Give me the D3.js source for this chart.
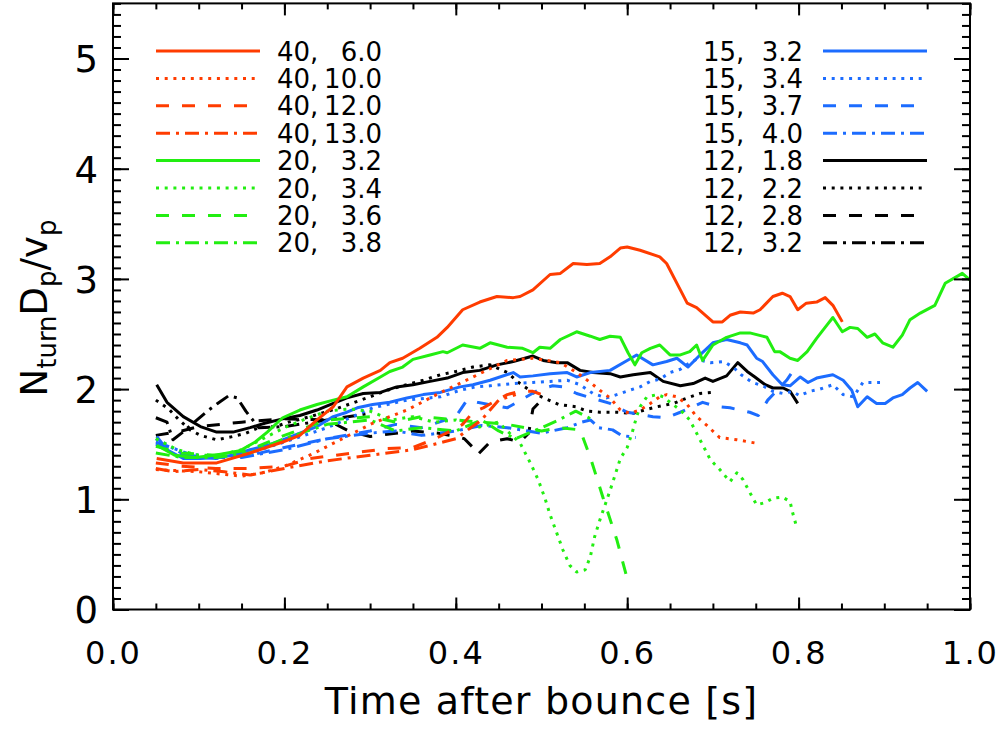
<!DOCTYPE html>
<html><head><meta charset="utf-8">
<script src="https://cdn.jsdelivr.net/npm/d3@7"></script>
<style>
body{margin:0;background:#fff}
svg{display:block}
text{font-family:"DejaVu Sans",sans-serif;fill:#000}
</style>
</head><body>
<svg id="c" width="1008" height="731"></svg>
<script>
// ---------- data ----------
const xTicks = [0, 0.2, 0.4, 0.6, 0.8, 1.0];
const xTickLabels = ["0.0", "0.2", "0.4", "0.6", "0.8", "1.0"];
const yTicks = [0, 1, 2, 3, 4, 5];
const yTickLabels = ["0", "1", "2", "3", "4", "5"];
const xTitle = "Time after bounce [s]";

const leftLegendMass = ["40", "40", "40", "40", "20", "20", "20", "20"];
const leftLegendVal = ["6.0", "10.0", "12.0", "13.0", "3.2", "3.4", "3.6", "3.8"];
const rightLegendMass = ["15", "15", "15", "15", "12", "12", "12", "12"];
const rightLegendVal = ["3.2", "3.4", "3.7", "4.0", "1.8", "2.2", "2.8", "3.2"];

// [time (s), N_turn D_p / v_p]
const s40_60 = [[0.051,1.37],[0.082,1.33],[0.121,1.33],[0.160,1.42],[0.198,1.52],[0.218,1.58],[0.238,1.72],[0.257,1.84],[0.273,2.02],[0.292,2.10],[0.312,2.17],[0.323,2.24],[0.338,2.28],[0.358,2.37],[0.378,2.47],[0.390,2.56],[0.408,2.72],[0.428,2.79],[0.448,2.84],[0.467,2.83],[0.475,2.84],[0.490,2.90],[0.510,3.04],[0.522,3.05],[0.537,3.14],[0.553,3.13],[0.568,3.14],[0.580,3.20],[0.592,3.28],[0.600,3.29],[0.615,3.26],[0.638,3.20],[0.646,3.14],[0.662,2.90],[0.670,2.78],[0.681,2.74],[0.700,2.61],[0.711,2.61],[0.720,2.67],[0.732,2.70],[0.747,2.69],[0.755,2.72],[0.770,2.84],[0.781,2.87],[0.790,2.84],[0.799,2.72],[0.809,2.78],[0.821,2.79],[0.831,2.83],[0.840,2.76],[0.851,2.61]];
const s40_100 = [[0.05,1.27],[0.075,1.26],[0.1,1.25],[0.125,1.23],[0.15,1.21],[0.175,1.24],[0.2,1.30],[0.235,1.42],[0.265,1.54],[0.303,1.69],[0.343,1.81],[0.38,1.96],[0.42,2.11],[0.46,2.26],[0.49,2.28],[0.522,2.24],[0.541,2.15],[0.557,2.06],[0.568,1.99],[0.580,1.92],[0.592,1.81],[0.603,1.78],[0.615,1.81],[0.627,1.87],[0.638,1.93],[0.646,1.95],[0.658,1.93],[0.670,1.86],[0.681,1.75],[0.693,1.67],[0.708,1.56],[0.728,1.54],[0.750,1.51]];
const s40_120 = [[0.05,1.33],[0.08,1.30],[0.12,1.28],[0.16,1.28],[0.2,1.30],[0.23,1.37],[0.26,1.40],[0.29,1.43],[0.32,1.46],[0.35,1.47],[0.373,1.54],[0.397,1.63],[0.408,1.68],[0.42,1.79],[0.432,1.83],[0.448,1.90],[0.46,1.95],[0.475,1.98],[0.49,1.98],[0.5,1.95]];
const s40_130 = [[0.05,1.28],[0.07,1.25],[0.1,1.27],[0.13,1.25],[0.16,1.22],[0.2,1.28],[0.25,1.35],[0.3,1.40],[0.35,1.45],[0.4,1.55],[0.43,1.72],[0.45,1.90],[0.47,1.95]];
const s20_32 = [[0.051,1.49],[0.072,1.40],[0.096,1.38],[0.119,1.40],[0.148,1.44],[0.166,1.52],[0.180,1.61],[0.198,1.74],[0.218,1.81],[0.238,1.86],[0.257,1.90],[0.273,1.93],[0.292,2.02],[0.312,2.11],[0.323,2.16],[0.338,2.20],[0.350,2.27],[0.370,2.31],[0.385,2.34],[0.390,2.33],[0.408,2.40],[0.428,2.37],[0.440,2.42],[0.460,2.38],[0.478,2.37],[0.490,2.33],[0.498,2.38],[0.510,2.37],[0.522,2.45],[0.541,2.52],[0.557,2.48],[0.568,2.45],[0.580,2.48],[0.592,2.47],[0.601,2.33],[0.609,2.22],[0.617,2.33],[0.627,2.37],[0.638,2.40],[0.650,2.31],[0.662,2.31],[0.673,2.34],[0.681,2.40],[0.688,2.26],[0.700,2.40],[0.716,2.47],[0.732,2.51],[0.743,2.51],[0.763,2.47],[0.772,2.34],[0.778,2.34],[0.790,2.28],[0.799,2.26],[0.810,2.34],[0.821,2.46],[0.833,2.58],[0.840,2.65],[0.851,2.52],[0.860,2.56],[0.869,2.55],[0.880,2.47],[0.889,2.50],[0.898,2.42],[0.910,2.38],[0.921,2.49],[0.930,2.63],[0.942,2.69],[0.959,2.76],[0.971,2.96],[0.991,3.05],[1.0,2.99]];
const s20_34 = [[0.05,1.55],[0.075,1.45],[0.1,1.40],[0.125,1.40],[0.15,1.45],[0.175,1.55],[0.2,1.65],[0.225,1.73],[0.25,1.80],[0.275,1.82],[0.3,1.80],[0.325,1.72],[0.35,1.75],[0.375,1.70],[0.4,1.72],[0.425,1.65],[0.45,1.70],[0.46,1.62],[0.475,1.51],[0.487,1.33],[0.496,1.18],[0.504,1.01],[0.510,0.86],[0.518,0.69],[0.525,0.54],[0.533,0.40],[0.541,0.34],[0.551,0.36],[0.557,0.48],[0.562,0.66],[0.568,0.81],[0.576,0.99],[0.583,1.15],[0.592,1.37],[0.600,1.47],[0.606,1.61],[0.611,1.75],[0.615,1.84],[0.623,1.93],[0.635,1.95],[0.642,1.93],[0.650,1.88],[0.662,1.81],[0.673,1.72],[0.685,1.54],[0.697,1.36],[0.708,1.27],[0.720,1.16],[0.728,1.24],[0.735,1.18],[0.746,1.02],[0.751,0.95],[0.761,0.97],[0.770,1.01],[0.781,1.02],[0.790,0.98],[0.793,0.88],[0.798,0.74]];
const s20_36 = [[0.05,1.48],[0.08,1.42],[0.12,1.40],[0.16,1.45],[0.2,1.58],[0.25,1.72],[0.3,1.75],[0.33,1.70],[0.36,1.75],[0.4,1.72],[0.43,1.70],[0.46,1.68],[0.5,1.62],[0.52,1.65],[0.545,1.63],[0.557,1.38],[0.572,1.01],[0.588,0.63],[0.6,0.28]];
const s20_38 = [[0.05,1.42],[0.08,1.38],[0.12,1.38],[0.16,1.42],[0.2,1.55],[0.25,1.68],[0.3,1.72],[0.33,1.62],[0.36,1.65],[0.4,1.62],[0.43,1.72],[0.45,1.62],[0.47,1.55],[0.5,1.65],[0.52,1.72],[0.54,1.80],[0.56,1.72]];
const s15_32 = [[0.051,1.57],[0.063,1.45],[0.082,1.37],[0.102,1.37],[0.121,1.38],[0.140,1.40],[0.160,1.45],[0.180,1.49],[0.198,1.54],[0.218,1.60],[0.238,1.66],[0.257,1.75],[0.273,1.79],[0.285,1.83],[0.303,1.86],[0.323,1.88],[0.343,1.92],[0.362,1.95],[0.382,1.97],[0.405,2.02],[0.420,2.04],[0.440,2.08],[0.467,2.15],[0.475,2.11],[0.490,2.12],[0.510,2.14],[0.530,2.15],[0.541,2.11],[0.557,2.15],[0.580,2.17],[0.600,2.26],[0.611,2.31],[0.630,2.22],[0.646,2.25],[0.658,2.28],[0.671,2.20],[0.685,2.31],[0.700,2.42],[0.716,2.45],[0.732,2.42],[0.740,2.40],[0.751,2.28],[0.758,2.25],[0.770,2.13],[0.781,2.04],[0.790,2.03],[0.802,2.11],[0.811,2.06],[0.821,2.10],[0.840,2.13],[0.852,2.08],[0.862,1.99],[0.869,1.84],[0.880,1.93],[0.891,1.87],[0.901,1.87],[0.910,1.92],[0.921,1.95],[0.930,2.01],[0.939,2.06],[0.950,1.98]];
const s15_34 = [[0.05,1.55],[0.08,1.42],[0.12,1.38],[0.16,1.42],[0.2,1.52],[0.25,1.65],[0.303,1.83],[0.343,1.90],[0.382,1.93],[0.405,1.99],[0.423,2.02],[0.44,2.03],[0.467,2.05],[0.49,2.06],[0.51,2.07],[0.53,2.08],[0.545,2.04],[0.56,1.96],[0.576,1.92],[0.592,1.96],[0.603,1.99],[0.615,2.02],[0.627,2.07],[0.638,2.09],[0.65,2.15],[0.662,2.18],[0.673,2.24],[0.681,2.27],[0.697,2.24],[0.713,2.25],[0.725,2.19],[0.733,2.13],[0.746,2.06],[0.758,2.03],[0.77,1.98],[0.782,1.96],[0.793,1.98],[0.801,1.94],[0.813,1.98],[0.825,2.00],[0.84,2.04],[0.852,1.95],[0.864,1.93],[0.875,2.06],[0.895,2.06]];
const s15_37 = [[0.05,1.50],[0.08,1.40],[0.12,1.37],[0.16,1.40],[0.2,1.47],[0.25,1.55],[0.3,1.62],[0.33,1.68],[0.36,1.65],[0.4,1.75],[0.413,1.90],[0.425,1.88],[0.46,1.83],[0.498,2.00],[0.513,2.03],[0.525,2.02],[0.541,1.96],[0.58,1.87],[0.6,1.79],[0.63,1.75],[0.646,1.74],[0.662,1.79],[0.677,1.84],[0.688,1.88],[0.705,1.84],[0.72,1.83],[0.743,1.79],[0.753,1.76],[0.764,1.90],[0.775,1.99],[0.786,2.08],[0.793,2.16]];
const s15_40 = [[0.05,1.52],[0.1,1.38],[0.15,1.38],[0.2,1.45],[0.25,1.55],[0.3,1.60],[0.33,1.62],[0.36,1.58],[0.4,1.62],[0.43,1.67],[0.46,1.65],[0.5,1.60],[0.53,1.65],[0.547,1.70],[0.557,1.72],[0.567,1.65],[0.583,1.63],[0.593,1.58],[0.61,1.56]];
const s12_18 = [[0.051,2.04],[0.063,1.88],[0.082,1.75],[0.102,1.66],[0.121,1.61],[0.140,1.61],[0.160,1.65],[0.177,1.69],[0.198,1.73],[0.218,1.76],[0.238,1.81],[0.257,1.87],[0.273,1.92],[0.292,1.96],[0.312,1.97],[0.331,2.02],[0.350,2.04],[0.370,2.07],[0.390,2.10],[0.408,2.15],[0.428,2.17],[0.448,2.22],[0.467,2.25],[0.490,2.30],[0.502,2.26],[0.518,2.24],[0.530,2.24],[0.545,2.17],[0.560,2.15],[0.580,2.14],[0.592,2.11],[0.607,2.13],[0.627,2.15],[0.642,2.07],[0.662,2.03],[0.677,2.05],[0.691,2.10],[0.700,2.07],[0.716,2.12],[0.729,2.24],[0.740,2.16],[0.749,2.11],[0.761,2.04],[0.770,2.01],[0.782,2.01],[0.790,1.98],[0.799,1.87]];
const s12_22 = [[0.05,1.90],[0.065,1.82],[0.077,1.72],[0.09,1.63],[0.102,1.58],[0.121,1.54],[0.14,1.57],[0.155,1.60],[0.17,1.65],[0.19,1.66],[0.205,1.70],[0.23,1.75],[0.26,1.82],[0.3,1.93],[0.32,1.99],[0.343,2.04],[0.362,2.08],[0.382,2.13],[0.40,2.16],[0.42,2.20],[0.44,2.22],[0.46,2.15],[0.475,2.05],[0.49,1.97],[0.5,1.93],[0.52,1.86],[0.54,1.84],[0.553,1.80],[0.568,1.79],[0.588,1.79],[0.607,1.78],[0.62,1.81],[0.635,1.84],[0.654,1.87],[0.67,1.92],[0.685,1.96],[0.7,1.97]];
const s12_28 = [[0.05,1.58],[0.08,1.62],[0.1,1.66],[0.15,1.70],[0.2,1.73],[0.25,1.72],[0.275,1.62],[0.3,1.57],[0.33,1.60],[0.35,1.62],[0.38,1.60],[0.4,1.57],[0.41,1.55],[0.42,1.47],[0.425,1.40],[0.44,1.52],[0.46,1.55],[0.475,1.52],[0.485,1.60],[0.49,1.82],[0.5,1.90]];
const s12_32 = [[0.05,1.74],[0.063,1.70],[0.07,1.54],[0.08,1.60],[0.095,1.70],[0.11,1.80],[0.122,1.87],[0.135,1.94],[0.145,1.92],[0.155,1.80],[0.17,1.65],[0.2,1.66],[0.25,1.72],[0.3,1.78]];

// ---------- styling ----------
const colRed = "#ff3c00", colGreen = "#22ee11", colBlue = "#1c6cff", colBlack = "#000000";
const dashSolid = null, dashDot = "3,5.7", dashDash = "13,13", dashDashDot = "14,6,3,6";

const series = [
  {d:s40_60, c:colRed, dash:dashSolid}, {d:s40_100, c:colRed, dash:dashDot},
  {d:s40_120, c:colRed, dash:dashDash}, {d:s40_130, c:colRed, dash:dashDashDot},
  {d:s20_32, c:colGreen, dash:dashSolid}, {d:s20_34, c:colGreen, dash:dashDot},
  {d:s20_36, c:colGreen, dash:dashDash}, {d:s20_38, c:colGreen, dash:dashDashDot},
  {d:s15_32, c:colBlue, dash:dashSolid}, {d:s15_34, c:colBlue, dash:dashDot},
  {d:s15_37, c:colBlue, dash:dashDash}, {d:s15_40, c:colBlue, dash:dashDashDot},
  {d:s12_18, c:colBlack, dash:dashSolid}, {d:s12_22, c:colBlack, dash:dashDot},
  {d:s12_28, c:colBlack, dash:dashDash}, {d:s12_32, c:colBlack, dash:dashDashDot}
];

const L = 113, R = 970, T = 3.4, B = 609.5;
const x = d3.scaleLinear().domain([0, 1]).range([L, R]);
const y = d3.scaleLinear().domain([0, 5.5]).range([B, T]);
const svg = d3.select("#c");

// lines
const line = d3.line().x(d => x(d[0])).y(d => y(d[1]));
const gL = svg.append("g");
series.slice().reverse().forEach(s => {
  gL.append("path").attr("d", line(s.d)).attr("fill", "none")
    .attr("stroke", s.c).attr("stroke-width", 3)
    .attr("stroke-linejoin", "round")
    .attr("stroke-dasharray", s.dash);
});

// axes
const xMinor = d3.range(0, 1.0001, 0.05).map(v => +v.toFixed(2));
const yMinor = d3.range(0, 5.5001, 0.1).map(v => +v.toFixed(1));
function styleAxis(g) {
  g.select(".domain").remove();
  g.selectAll("line").attr("stroke", "#000").attr("stroke-width", 2);
}
svg.append("g").attr("transform", `translate(0,${B})`)
  .call(d3.axisBottom(x).tickValues(xMinor).tickSize(-6).tickFormat(""))
  .call(styleAxis);
svg.append("g").attr("transform", `translate(0,${B})`)
  .call(d3.axisBottom(x).tickValues(xTicks).tickSize(-12).tickPadding(32)
    .tickFormat((d, i) => xTickLabels[i]))
  .call(styleAxis)
  .call(g => g.selectAll("text").attr("font-size", 32).attr("letter-spacing", 2)
    .attr("font-family", "DejaVu Sans").attr("fill", "#000"));
svg.append("g").attr("transform", `translate(0,${T})`)
  .call(d3.axisTop(x).tickValues(xMinor).tickSize(-6).tickFormat("")).call(styleAxis);
svg.append("g").attr("transform", `translate(0,${T})`)
  .call(d3.axisTop(x).tickValues(xTicks).tickSize(-12).tickFormat("")).call(styleAxis);

svg.append("g").attr("transform", `translate(${L},0)`)
  .call(d3.axisLeft(y).tickValues(yMinor).tickSize(-8).tickFormat("")).call(styleAxis);
svg.append("g").attr("transform", `translate(${L},0)`)
  .call(d3.axisLeft(y).tickValues(yTicks).tickSize(-16).tickPadding(15)
    .tickFormat((d, i) => yTickLabels[i]))
  .call(styleAxis)
  .call(g => g.selectAll("text").attr("font-size", 37).attr("dy", "0.36em")
    .attr("font-family", "DejaVu Sans").attr("fill", "#000"));
svg.append("g").attr("transform", `translate(${R},0)`)
  .call(d3.axisRight(y).tickValues(yMinor).tickSize(-8).tickFormat("")).call(styleAxis);
svg.append("g").attr("transform", `translate(${R},0)`)
  .call(d3.axisRight(y).tickValues(yTicks).tickSize(-16).tickFormat("")).call(styleAxis);

// frame
svg.append("rect").attr("x", L).attr("y", T).attr("width", R - L).attr("height", B - T)
  .attr("fill", "none").attr("stroke", "#000").attr("stroke-width", 2);

// titles
svg.append("text").attr("x", (L + R) / 2).attr("y", 714).attr("text-anchor", "middle")
  .attr("font-size", 38).attr("letter-spacing", 1.2).text(xTitle);

const yt = svg.append("text").attr("transform", "translate(47,308) rotate(-90)")
  .attr("text-anchor", "middle").attr("font-size", 37);
yt.append("tspan").text("N");
yt.append("tspan").attr("font-size", 26).attr("dy", 9).text("turn");
yt.append("tspan").attr("dy", -9).text("D");
yt.append("tspan").attr("font-size", 26).attr("dy", 9).text("p");
yt.append("tspan").attr("dy", -9).text("/v");
yt.append("tspan").attr("font-size", 26).attr("dy", 9).text("p");

// legends
const legY0 = 51, legDY = 27.4;
leftLegendMass.forEach((m, i) => {
  const s = series[i];
  const yy = legY0 + i * legDY;
  svg.append("line").attr("x1", 156).attr("x2", 260).attr("y1", yy).attr("y2", yy)
    .attr("stroke", s.c).attr("stroke-width", 3).attr("stroke-dasharray", s.dash);
  svg.append("text").attr("x", 277).attr("y", yy + 9.5).attr("font-size", 26).text(m + ",");
  svg.append("text").attr("x", 382).attr("y", yy + 9.5).attr("font-size", 26)
    .attr("text-anchor", "end").text(leftLegendVal[i]);
});
rightLegendMass.forEach((m, i) => {
  const s = series[8 + i];
  const yy = legY0 + i * legDY;
  svg.append("line").attr("x1", 823).attr("x2", 927).attr("y1", yy).attr("y2", yy)
    .attr("stroke", s.c).attr("stroke-width", 3).attr("stroke-dasharray", s.dash);
  svg.append("text").attr("x", 703).attr("y", yy + 9.5).attr("font-size", 26).text(m + ",");
  svg.append("text").attr("x", 803).attr("y", yy + 9.5).attr("font-size", 26)
    .attr("text-anchor", "end").text(rightLegendVal[i]);
});
</script>
</body></html>
